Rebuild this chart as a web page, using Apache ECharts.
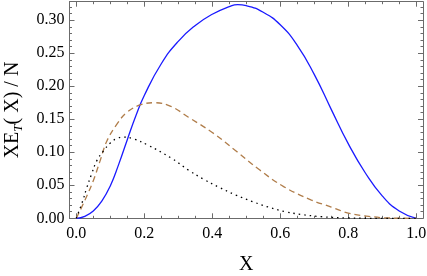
<!DOCTYPE html>
<html>
<head>
<meta charset="utf-8">
<script src="https://cdn.jsdelivr.net/npm/echarts@6/dist/echarts.min.js"></script>
<style>html,body{margin:0;padding:0;background:#fff}#c{width:427px;height:276px}</style>
</head>
<body>
<div id="c"></div>
<script>
// Data
const blueX = [0, 0.025, 0.05, 0.075, 0.1, 0.125, 0.15, 0.175, 0.2, 0.25, 0.3, 0.35, 0.4, 0.45, 0.475, 0.5, 0.55, 0.6, 0.65, 0.7, 0.75, 0.8, 0.85, 0.9, 0.95, 1.0];
const blueY = [0, 0.003, 0.011, 0.026, 0.049, 0.082, 0.119, 0.155, 0.186, 0.234, 0.268, 0.292, 0.309, 0.3205, 0.3235, 0.322, 0.312, 0.293, 0.262, 0.218, 0.165, 0.113, 0.069, 0.034, 0.011, 0];
const brownX = [0, 0.025, 0.05, 0.07, 0.09, 0.12, 0.15, 0.19, 0.23, 0.28, 0.33, 0.4, 0.47, 0.54, 0.61, 0.69, 0.75, 0.8, 0.86, 0.92, 1.0];
const brownY = [0, 0.027, 0.057, 0.087, 0.117, 0.143, 0.161, 0.172, 0.175, 0.169, 0.153, 0.13, 0.102, 0.073, 0.048, 0.028, 0.017, 0.008, 0.003, 0.0005, 0];
const dotX = [0, 0.02, 0.03, 0.045, 0.06, 0.08, 0.1, 0.12, 0.14, 0.17, 0.21, 0.28, 0.33, 0.375, 0.42, 0.47, 0.52, 0.565, 0.615, 0.66, 0.72, 0.8, 0.9, 1.0];
const dotY = [0, 0.028, 0.045, 0.067, 0.087, 0.102, 0.114, 0.121, 0.123, 0.12, 0.111, 0.091, 0.073, 0.059, 0.047, 0.035, 0.025, 0.017, 0.010, 0.006, 0.0025, 0.0005, 0, 0];
const xMajor = [0, 0.2, 0.4, 0.6, 0.8, 1.0];
const xMinor = [0.05, 0.1, 0.15, 0.25, 0.3, 0.35, 0.45, 0.5, 0.55, 0.65, 0.7, 0.75, 0.85, 0.9, 0.95];
const yMajor = [0, 0.05, 0.1, 0.15, 0.2, 0.25, 0.3];
const yMinor = [0.01, 0.02, 0.03, 0.04, 0.06, 0.07, 0.08, 0.09, 0.11, 0.12, 0.13, 0.14, 0.16, 0.17, 0.18, 0.19, 0.21, 0.22, 0.23, 0.24, 0.26, 0.27, 0.28, 0.29, 0.31, 0.32];
const xRange = [-0.02, 1.02];
const yRange = [0, 0.328];

const zip = (xs, ys) => xs.map((x, i) => [x, ys[i]]);
const frameColor = '#6b6b6b';
const font = 'Liberation Serif';

function xAx(pos, ticks, len, showLine, showLabel) {
  return {
    type: 'value', position: pos, min: xRange[0], max: xRange[1],
    splitLine: {show: false},
    axisLine: {show: showLine, onZero: false, lineStyle: {color: frameColor, width: 1}},
    axisTick: {show: true, inside: true, length: len, customValues: ticks, lineStyle: {color: frameColor, width: 1}},
    axisLabel: showLabel ? {show: true, customValues: xMajor, formatter: v => v.toFixed(1), color: '#000', fontFamily: font, fontSize: 16, margin: 7} : {show: false},
    ...(showLabel ? {name: 'X', nameLocation: 'middle', nameGap: 36, nameTextStyle: {color: '#000', fontFamily: font, fontSize: 20}} : {})
  };
}
function yAx(pos, ticks, len, showLine, showLabel) {
  return {
    type: 'value', position: pos, min: yRange[0], max: yRange[1],
    splitLine: {show: false},
    axisLine: {show: showLine, onZero: false, lineStyle: {color: frameColor, width: 1}},
    axisTick: {show: true, inside: true, length: len, customValues: ticks, lineStyle: {color: frameColor, width: 1}},
    axisLabel: showLabel ? {show: true, customValues: yMajor, formatter: v => v.toFixed(2), color: '#000', fontFamily: font, fontSize: 16, margin: 5} : {show: false},
    ...(showLabel ? {
      name: '{a|XE}{s|T}{a|( X) / N}', nameLocation: 'middle', nameGap: 44, nameRotate: 90,
      nameTextStyle: {color: '#000', fontFamily: font, fontSize: 20,
        rich: {a: {fontFamily: font, fontSize: 20, color: '#000', lineHeight: 26, verticalAlign: 'middle'},
               s: {fontFamily: font, fontSize: 13, fontStyle: 'italic', color: '#000', lineHeight: 26, verticalAlign: 'bottom'}}}
    } : {})
  };
}

const chart = echarts.init(document.getElementById('c'), null, {renderer: 'canvas'});
chart.setOption({
  animation: false,
  backgroundColor: '#fff',
  grid: {left: 69.5, right: 4, top: 1.7, bottom: 57.7, containLabel: false, outerBoundsMode: 'none'},
  xAxis: [xAx('bottom', xMajor, 5, true, true), xAx('bottom', xMinor, 2.5, false, false),
          xAx('top', xMajor, 5, true, false), xAx('top', xMinor, 2.5, false, false)],
  yAxis: [yAx('left', yMajor, 5, true, true), yAx('left', yMinor, 2.5, false, false),
          yAx('right', yMajor, 5, true, false), yAx('right', yMinor, 2.5, false, false)],
  series: [
    {type: 'line', data: zip(blueX, blueY), smooth: 0.5, showSymbol: false, clip: true,
     lineStyle: {color: '#1a1aff', width: 1.3}},
    {type: 'line', data: zip(brownX, brownY), smooth: 0.4, showSymbol: false, clip: true,
     lineStyle: {color: '#b07d4a', width: 1.3, type: [6, 4]}},
    {type: 'line', data: zip(dotX, dotY), smooth: 0.4, showSymbol: false, clip: true,
     lineStyle: {color: '#000', width: 1.3, type: [1.5, 4]}}
  ]
});
</script>
</body>
</html>
